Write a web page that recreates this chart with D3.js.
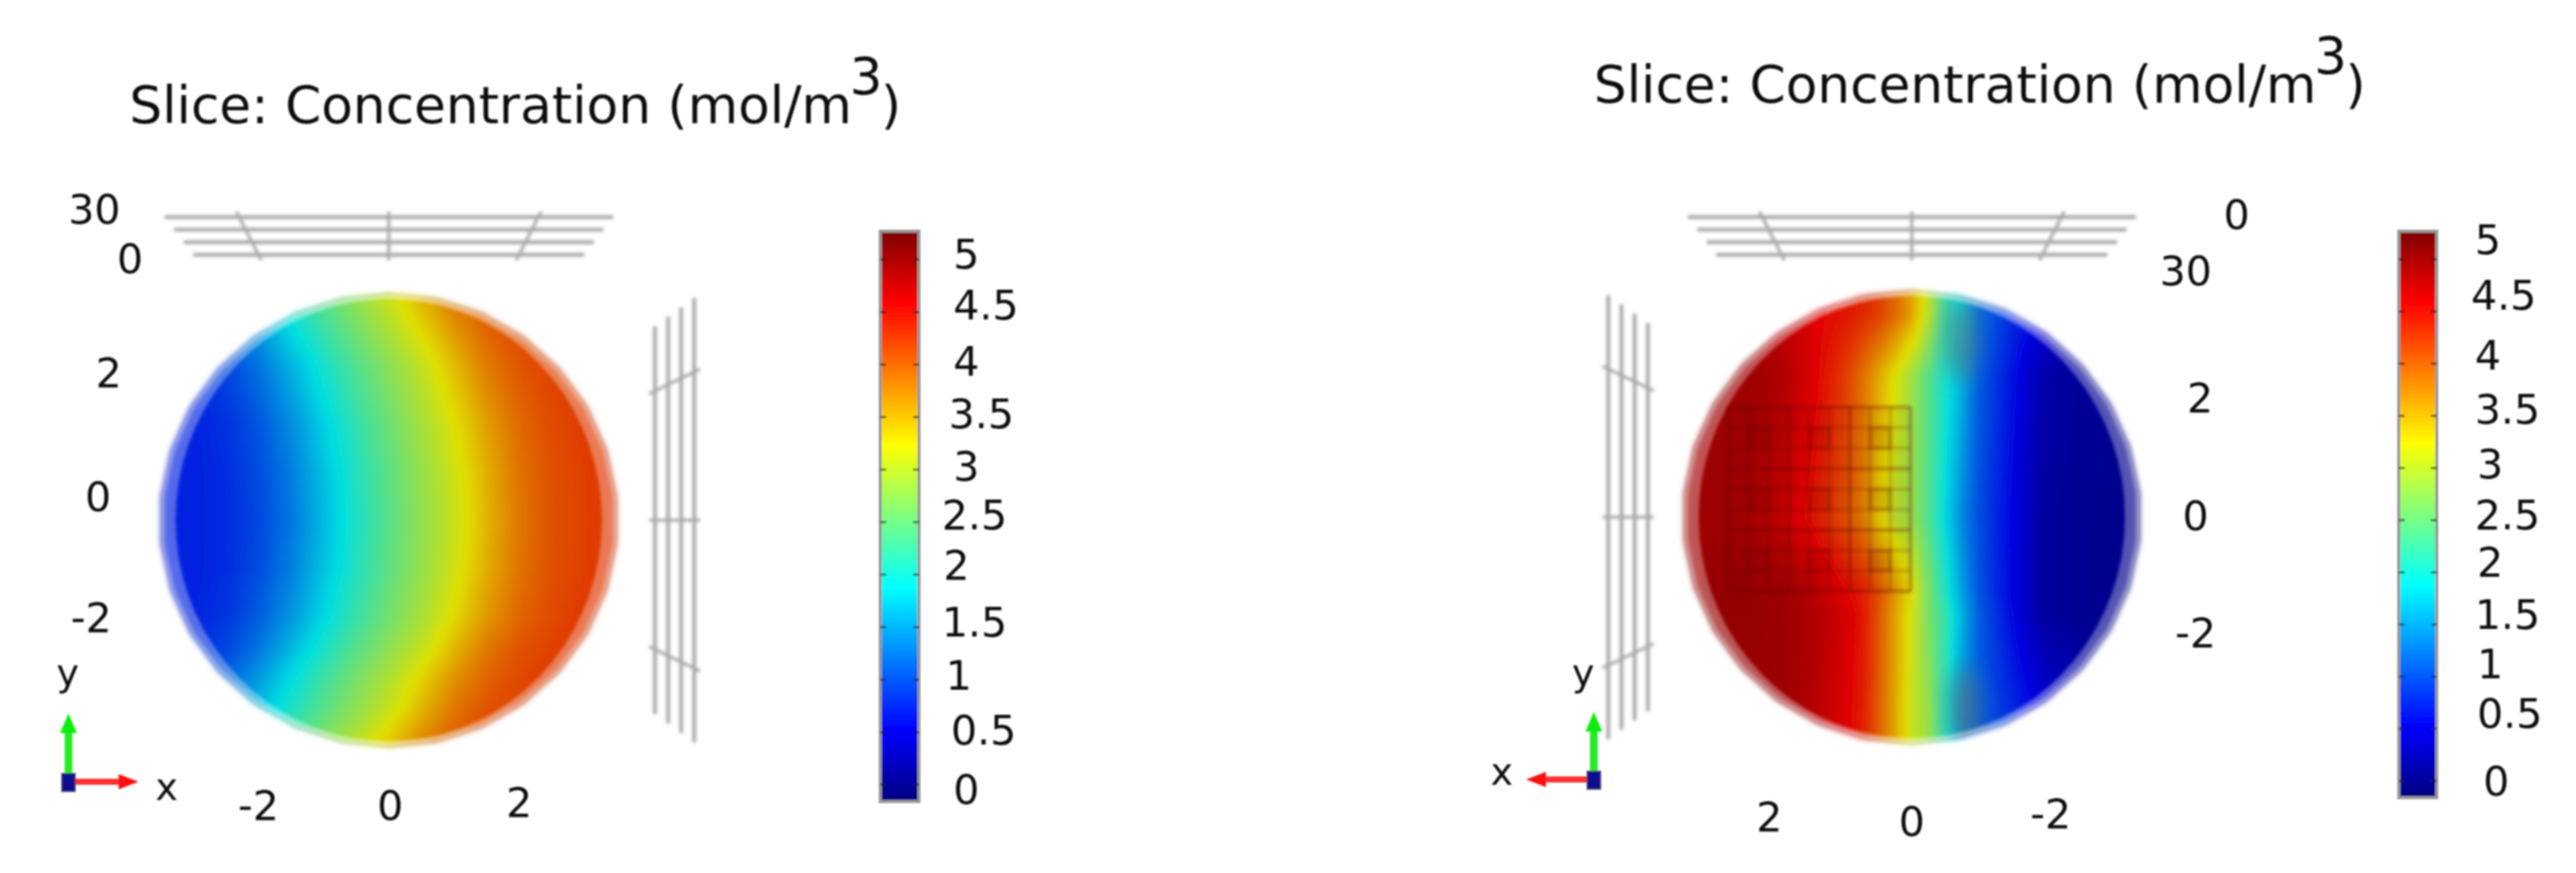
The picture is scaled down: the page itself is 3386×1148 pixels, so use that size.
<!DOCTYPE html>
<html>
<head>
<meta charset="utf-8">
<title>Slice: Concentration</title>
<script src="https://cdn.jsdelivr.net/npm/d3@7"></script>
<style>
  html, body { margin: 0; background: #fff; }
  svg { display: block; }
  text { font-family: "DejaVu Sans", sans-serif; fill: #111; }
</style>
</head>
<body>
<div id="chart"></div>
<script>
const width = 3386;
const height = 1148;

const titleText = "Slice: Concentration (mol/m";
const titleSup = "3";
const titleEnd = ")";

const barTicks = [0, 0.5, 1, 1.5, 2, 2.5, 3, 3.5, 4, 4.5, 5];
const barDomain = [-0.16, 5.27];
const spaceTicks = [-2, 0, 2];
const depthLevels = [0, 10, 20, 30];
const depthLabels = [30, 0];

// jet colormap, fractions along the bar
const jetStops = [0, 0.125, 0.375, 0.625, 0.875, 1];
const jetColors = ["#00007f", "#0000ff", "#00ffff", "#ffff00", "#ff0000", "#7f0000"];

const leftColumns = [-3.5, -3, -2.5, -2, -1.5, -1, -0.5, 0, 0.5, 1, 1.5, 2, 2.5, 3, 3.5];
const leftRows = [3.4, 2.9, 2.4, 1.5, 0.75, 0, -0.75, -1.5, -2, -2.4, -2.9, -3.4];
const leftField = [
  [0.78, 0.95, 1.25, 1.65, 2.05, 2.42, 2.75, 3.08, 3.5, 3.88, 4.1, 4.2, 4.3, 4.3, 4.3],
  [0.75, 0.86, 1.08, 1.43, 1.83, 2.21, 2.57, 2.9, 3.26, 3.67, 3.98, 4.14, 4.24, 4.3, 4.3],
  [0.72, 0.77, 0.93, 1.22, 1.61, 2.01, 2.38, 2.72, 3.05, 3.46, 3.85, 4.08, 4.19, 4.29, 4.3],
  [0.71, 0.73, 0.82, 1.04, 1.38, 1.79, 2.19, 2.54, 2.87, 3.23, 3.63, 3.96, 4.14, 4.24, 4.3],
  [0.7, 0.72, 0.79, 0.98, 1.29, 1.69, 2.09, 2.45, 2.78, 3.12, 3.54, 3.9, 4.11, 4.21, 4.3],
  [0.7, 0.72, 0.78, 0.95, 1.25, 1.65, 2.05, 2.42, 2.75, 3.08, 3.5, 3.88, 4.1, 4.2, 4.3],
  [0.7, 0.72, 0.79, 0.98, 1.3, 1.7, 2.09, 2.46, 2.78, 3.13, 3.55, 3.9, 4.11, 4.21, 4.3],
  [0.71, 0.74, 0.84, 1.09, 1.44, 1.84, 2.23, 2.58, 2.9, 3.28, 3.68, 3.98, 4.15, 4.25, 4.3],
  [0.72, 0.78, 0.95, 1.25, 1.65, 2.05, 2.42, 2.75, 3.08, 3.5, 3.88, 4.1, 4.2, 4.3, 4.3],
  [0.75, 0.87, 1.1, 1.45, 1.85, 2.24, 2.6, 2.92, 3.3, 3.7, 3.99, 4.15, 4.25, 4.3, 4.3],
  [0.78, 0.95, 1.25, 1.65, 2.05, 2.42, 2.75, 3.08, 3.5, 3.88, 4.1, 4.2, 4.3, 4.3, 4.3],
  [0.9, 1.16, 1.53, 1.93, 2.31, 2.65, 2.98, 3.37, 3.77, 4.04, 4.17, 4.27, 4.3, 4.3, 4.3]
];

// same for the right slice, finer in the middle where the front is sharp
const rightColumns = [-3.5, -3, -2.5, -2, -1.5, -1, -0.75, -0.5, -0.25, 0, 0.25, 0.5, 0.75, 1, 1.5, 2, 2.5, 3, 3.5];
const rightRows = [3.15, 2.2, 0, -1.15, -1.5, -3.1];
const rightField = [
  [0.1, 0.1, 0.3, 0.5, 0.8, 1.2, 1.8, 2.2, 3.0, 3.6, 3.95, 4.2, 4.35, 4.45, 4.6, 4.8, 4.9, 5.0, 5.0],
  [0.02, 0.05, 0.1, 0.2, 0.65, 1.1, 1.6, 2.0, 2.4, 2.8, 3.2, 3.55, 3.9, 4.2, 4.6, 4.9, 5.0, 5.0, 4.95],
  [0.0, 0.02, 0.05, 0.12, 0.55, 1.0, 1.35, 1.85, 2.35, 2.75, 2.95, 3.3, 3.8, 4.05, 4.45, 4.75, 4.95, 5.0, 4.95],
  [0.0, 0.02, 0.05, 0.12, 0.55, 1.05, 1.5, 2.05, 2.6, 3.2, 3.65, 4.1, 4.4, 4.55, 4.85, 5.0, 5.05, 5.05, 4.95],
  [0.0, 0.02, 0.05, 0.12, 0.6, 1.1, 1.6, 2.2, 2.6, 3.1, 3.6, 4.05, 4.45, 4.65, 4.9, 5.0, 5.05, 5.05, 4.95],
  [0.1, 0.1, 0.3, 0.5, 0.8, 1.1, 1.4, 2.1, 2.8, 3.05, 3.55, 4.0, 4.4, 4.6, 4.85, 5.0, 5.0, 5.0, 5.0]
];

// duller patches near the top and bottom of the right slice's front, [x, y]
const rightDullSpots = [[-0.75, 2.75], [-0.8, -2.95]];

// mesh of the inset on the right slice
const meshCells = d3.range(9);
const meshExtentX = [0.02, 2.82];
const meshExtentY = [-1.15, 1.7];

const spaceMax = 3.5;
const rimSides = 30;
const shade = 0.88;

const panels = [
  {
    title: [170, 162], supShift: [-3, -38], endShift: [-2, 38],
    cx: 511, cy: 684, unit: 85.7, unitY: 85, flip: 1,
    columns: leftColumns, rows: leftRows, field: leftField, dull: [],
    zDomain: [0, 30],
    topY: [335, 285.5], sideX: [861, 912.5], zoomFar: 1.146,
    depthText: [[124, 275], [171, 340]],
    xLabelDx: [0, 2, 0], xLabelY: [1059, 1059, 1055],
    yLabelX: [120, 129, 143], yLabelDy: [-42, -31, -24],
    triad: { x: 90, y: 1028, dir: 1, xEnd: 182, yEnd: 938 },
    xText: [219, 1038], yText: [89, 888],
    bar: { x: 1157, w: 51, top: 304, bottom: 1054 },
    barLabelX: [1253, 1250, 1243, 1238, 1240, 1238, 1253, 1247, 1253, 1253, 1253],
    barLabelDy: [6, -3, -6, -7, -13, -10, -5, -5, -5, -10, -8],
    mesh: false
  },
  {
    title: [2095, 135], supShift: [-3, -38], endShift: [-2, 38],
    cx: 2513, cy: 680, unit: 85.7, unitY: 85, flip: -1,
    columns: rightColumns, rows: rightRows, field: rightField, dull: rightDullSpots,
    zDomain: [30, 0],
    topY: [335, 285.5], sideX: [2166, 2114], zoomFar: 1.146,
    depthText: [[2873, 356], [2940, 282]],
    xLabelDx: [11, 0, -16], xLabelY: [1070, 1080, 1074],
    yLabelX: [2886, 2886, 2892], yLabelDy: [-18, -2, 13],
    triad: { x: 2095, y: 1025, dir: -1, xEnd: 2006, yEnd: 936 },
    xText: [1974, 1018], yText: [2081, 888],
    bar: { x: 3153, w: 50, top: 304, bottom: 1049 },
    barLabelX: [3264, 3256, 3256, 3253, 3256, 3253, 3256, 3253, 3253, 3248, 3253],
    barLabelDy: [0, -21, -17, -14, -14, -7, -6, -9, -12, -22, -26],
    mesh: true
  }
];

const svg = d3.select("#chart").append("svg")
  .attr("width", width)
  .attr("height", height)
  .attr("viewBox", `0 0 ${width} ${height}`);

const defs = svg.append("defs");

function addBlur(id, amount) {
  defs.append("filter")
    .attr("id", id)
    .attr("filterUnits", "userSpaceOnUse")
    .attr("x", 0).attr("y", 0).attr("width", width).attr("height", height)
    .append("feGaussianBlur")
    .attr("stdDeviation", amount);
}
addBlur("softText", 0.8);
addBlur("softLine", 1.3);
addBlur("softWire", 2);
addBlur("softField", 4);
addBlur("softMesh", 2);
addBlur("softSpot", 14);

const jet = d3.scaleLinear()
  .domain(jetStops.map(t => barDomain[0] + t * (barDomain[1] - barDomain[0])))
  .range(jetColors)
  .clamp(true);

function fieldImage(p, xScale, yScale) {
  const step = 2;
  const x0 = p.cx - 320, y0 = p.cy - 320, size = 640;
  const canvas = document.createElement("canvas");
  canvas.width = canvas.height = size / step;
  const ctx = canvas.getContext("2d");
  const img = ctx.createImageData(canvas.width, canvas.height);

  const colIndex = d3.scaleLinear().domain(p.columns).range(d3.range(p.columns.length)).clamp(true);
  const rowIndex = d3.scaleLinear().domain(p.rows).range(d3.range(p.rows.length)).clamp(true);

  for (let j = 0; j < canvas.height; j++) {
    const ry = rowIndex(yScale.invert(y0 + j * step));
    const r0 = Math.floor(ry), r1 = Math.min(r0 + 1, p.rows.length - 1), fr = ry - r0;
    for (let i = 0; i < canvas.width; i++) {
      const cx = colIndex(xScale.invert(x0 + i * step));
      const c0 = Math.floor(cx), c1 = Math.min(c0 + 1, p.columns.length - 1), fc = cx - c0;
      const v = (p.field[r0][c0] * (1 - fc) + p.field[r0][c1] * fc) * (1 - fr)
              + (p.field[r1][c0] * (1 - fc) + p.field[r1][c1] * fc) * fr;
      const c = d3.rgb(jet(v));
      const k = (j * canvas.width + i) * 4;
      img.data[k] = c.r * shade;
      img.data[k + 1] = c.g * shade;
      img.data[k + 2] = c.b * shade;
      img.data[k + 3] = 255;
    }
  }
  ctx.putImageData(img, 0, 0);
  return { href: canvas.toDataURL(), x: x0, y: y0, size };
}

function drawPanel(p, index) {
  const xScale = d3.scaleLinear().domain([-1, 1]).range([p.cx - p.flip * p.unit, p.cx + p.flip * p.unit]);
  const yScale = d3.scaleLinear().domain([-1, 1]).range([p.cy + p.unitY, p.cy - p.unitY]);
  const zFrac = d3.scaleLinear().domain(p.zDomain).range([0, 1]);

  const g = svg.append("g").attr("class", "panel");

  // wire box behind the slice
  const wire = g.append("g")
    .attr("filter", "url(#softWire)")
    .attr("stroke", "#a8a8a8")
    .attr("stroke-width", 5)
    .attr("fill", "none");

  const topY = d3.scaleLinear().domain([0, 1]).range(p.topY);
  const sideX = d3.scaleLinear().domain([0, 1]).range(p.sideX);
  const persp = d3.scaleLinear().domain([0, 1]).range([1, p.zoomFar]);

  depthLevels.forEach(z => {
    const t = zFrac(z);
    const u = index === 0 ? t : 1 - t;
    wire.append("line")
      .attr("x1", xScale(-3 * persp(u))).attr("x2", xScale(3 * persp(u)))
      .attr("y1", topY(u)).attr("y2", topY(u));
    wire.append("line")
      .attr("x1", sideX(u)).attr("x2", sideX(u))
      .attr("y1", yScale(-3 * persp(u))).attr("y2", yScale(3 * persp(u)));
  });

  spaceTicks.forEach(v => {
    const a = -0.15, b = 1.15;
    wire.append("line")
      .attr("x1", xScale(v * persp(a))).attr("x2", xScale(v * persp(b)))
      .attr("y1", topY(a)).attr("y2", topY(b))
      .attr("stroke-width", 4);
    wire.append("line")
      .attr("x1", sideX(a)).attr("x2", sideX(b))
      .attr("y1", yScale(v * persp(a))).attr("y2", yScale(v * persp(b)))
      .attr("stroke-width", 4);
  });

  // slice
  const rim = d3.range(rimSides).map(i => {
    const a = (i + 0.5) / rimSides * 2 * Math.PI;
    return [xScale(spaceMax * Math.cos(a)), yScale(spaceMax * Math.sin(a))];
  });
  const inner = d3.range(72).map(i => {
    const a = i / 72 * 2 * Math.PI;
    return [xScale(3.27 * Math.cos(a)), yScale(3.42 * Math.sin(a))];
  });
  const outline = d3.line().curve(d3.curveLinearClosed);

  defs.append("clipPath").attr("id", `disc${index}`)
    .append("path").attr("d", outline(rim));

  const img = fieldImage(p, xScale, yScale);
  g.append("g")
    .attr("filter", "url(#softField)")
    .append("image")
    .attr("href", img.href)
    .attr("x", img.x).attr("y", img.y)
    .attr("width", img.size).attr("height", img.size)
    .attr("clip-path", `url(#disc${index})`);

  g.append("g")
    .attr("clip-path", `url(#disc${index})`)
    .append("g")
    .attr("filter", "url(#softSpot)")
    .selectAll("ellipse").data(p.dull).join("ellipse")
    .attr("cx", d => xScale(d[0])).attr("cy", d => yScale(d[1]))
    .attr("rx", 22).attr("ry", 55)
    .attr("fill", "#6a6a70").attr("fill-opacity", 0.55);

  const soft = g.append("g").attr("filter", "url(#softMesh)");
  soft.append("path")
    .attr("d", outline(rim) + outline(inner))
    .attr("fill", "#fff")
    .attr("fill-rule", "evenodd")
    .attr("opacity", 0.33);
  soft.append("path")
    .attr("d", outline(rim))
    .attr("fill", "none")
    .attr("stroke", "#999")
    .attr("stroke-opacity", 0.4)
    .attr("stroke-width", 2);

  if (p.mesh) drawMesh(g, xScale, yScale);

  // tick labels
  const labels = g.append("g").attr("filter", "url(#softText)").attr("font-size", 54);

  labels.selectAll(".x-label").data(spaceTicks).join("text")
    .attr("class", "x-label")
    .attr("text-anchor", "middle")
    .attr("dy", "0.36em")
    .attr("x", (d, i) => xScale(d) + p.xLabelDx[i])
    .attr("y", (d, i) => p.xLabelY[i])
    .text(d => d);

  labels.selectAll(".y-label").data(spaceTicks).join("text")
    .attr("class", "y-label")
    .attr("text-anchor", "middle")
    .attr("dy", "0.36em")
    .attr("x", (d, i) => p.yLabelX[i])
    .attr("y", (d, i) => yScale(d) + p.yLabelDy[i])
    .text(d => d);

  labels.selectAll(".z-label").data(depthLabels).join("text")
    .attr("class", "z-label")
    .attr("text-anchor", "middle")
    .attr("dy", "0.36em")
    .attr("x", (d, i) => p.depthText[i][0])
    .attr("y", (d, i) => p.depthText[i][1])
    .text(d => d);

  drawTriad(g, p);

  // title
  const title = g.append("text")
    .attr("filter", "url(#softText)")
    .attr("x", p.title[0]).attr("y", p.title[1])
    .attr("font-size", 68)
    .text(titleText);
  title.append("tspan").attr("dx", p.supShift[0]).attr("dy", p.supShift[1]).text(titleSup);
  title.append("tspan").attr("dx", p.endShift[0]).attr("dy", p.endShift[1]).text(titleEnd);

  drawBar(g, p, index);
}

function drawMesh(g, xScale, yScale) {
  const colEdge = d3.scaleLinear().domain([0, meshCells.length]).range(meshExtentX.map(d => xScale(d)).reverse());
  const rowEdge = d3.scaleLinear().domain([0, meshCells.length]).range(meshExtentY.map(d => yScale(d)).reverse());
  const mesh = g.append("g").attr("filter", "url(#softMesh)");
  const ink = "#6a0a00";

  mesh.append("rect")
    .attr("x", colEdge(0)).attr("y", rowEdge(0))
    .attr("width", colEdge(meshCells.length) - colEdge(0))
    .attr("height", rowEdge(meshCells.length) - rowEdge(0))
    .attr("fill", ink).attr("fill-opacity", 0.06);

  // centre cell of every 3x3 block is darker
  const centres = meshCells.filter(i => i % 3 === 1);
  centres.forEach(c => centres.forEach(r => {
    mesh.append("rect")
      .attr("x", colEdge(c)).attr("y", rowEdge(r))
      .attr("width", colEdge(c + 1) - colEdge(c))
      .attr("height", rowEdge(r + 1) - rowEdge(r))
      .attr("fill", ink).attr("fill-opacity", 0.1)
      .attr("stroke", ink).attr("stroke-opacity", 0.18).attr("stroke-width", 5);
  }));

  d3.range(meshCells.length + 1).forEach(i => {
    const strong = i % 3 === 0;
    const alpha = strong ? 0.36 : 0.2;
    mesh.append("line")
      .attr("x1", colEdge(i)).attr("x2", colEdge(i))
      .attr("y1", rowEdge(0)).attr("y2", rowEdge(meshCells.length))
      .attr("stroke", ink).attr("stroke-opacity", alpha).attr("stroke-width", 4);
    mesh.append("line")
      .attr("x1", colEdge(0)).attr("x2", colEdge(meshCells.length))
      .attr("y1", rowEdge(i)).attr("y2", rowEdge(i))
      .attr("stroke", ink).attr("stroke-opacity", alpha).attr("stroke-width", 4);
  });
}

function drawTriad(g, p) {
  const t = p.triad;
  const a = g.append("g").attr("filter", "url(#softLine)");
  a.append("line")
    .attr("x1", t.x).attr("x2", t.x).attr("y1", t.y).attr("y2", t.yEnd + 22)
    .attr("stroke", "#22ee22").attr("stroke-width", 10);
  a.append("path")
    .attr("d", d3.line()([[t.x - 11, t.yEnd + 26], [t.x + 11, t.yEnd + 26], [t.x, t.yEnd]]))
    .attr("fill", "#11ee11");
  a.append("line")
    .attr("x1", t.x).attr("x2", t.xEnd - t.dir * 24).attr("y1", t.y).attr("y2", t.y)
    .attr("stroke", "#ff3030").attr("stroke-width", 8);
  a.append("path")
    .attr("d", d3.line()([[t.xEnd - t.dir * 26, t.y - 10], [t.xEnd - t.dir * 26, t.y + 10], [t.xEnd, t.y]]))
    .attr("fill", "#ff1010");
  a.append("rect")
    .attr("x", t.x - 9).attr("y", t.y - 11).attr("width", 18).attr("height", 24)
    .attr("fill", "#0a0a90").attr("stroke", "#555").attr("stroke-width", 2).attr("stroke-opacity", 0.5);

  const labels = g.append("g").attr("filter", "url(#softText)").attr("font-size", 50);
  labels.append("text").attr("text-anchor", "middle").attr("dy", "0.28em")
    .attr("x", p.xText[0]).attr("y", p.xText[1]).text("x");
  labels.append("text").attr("text-anchor", "middle").attr("dy", "0.28em")
    .attr("x", p.yText[0]).attr("y", p.yText[1]).text("y");
}

function drawBar(g, p, index) {
  const b = p.bar;
  const barY = d3.scaleLinear().domain(barDomain).range([b.bottom, b.top]);

  const grad = defs.append("linearGradient").attr("id", `jet${index}`)
    .attr("x1", 0).attr("x2", 0).attr("y1", 1).attr("y2", 0);
  jetStops.forEach((t, i) => {
    grad.append("stop").attr("offset", t).attr("stop-color", jetColors[i]);
  });

  const bar = g.append("g").attr("filter", "url(#softLine)");
  bar.append("rect")
    .attr("x", b.x).attr("y", barY(barDomain[1]))
    .attr("width", b.w).attr("height", barY(barDomain[0]) - barY(barDomain[1]))
    .attr("fill", `url(#jet${index})`)
    .attr("stroke", "#999").attr("stroke-width", 4);

  bar.selectAll(".bar-tick").data(barTicks).join("g").attr("class", "bar-tick")
    .each(function (d) {
      const y = barY(d);
      d3.select(this).selectAll("line").data([[b.x, b.x + 8], [b.x + b.w - 8, b.x + b.w]]).join("line")
        .attr("x1", e => e[0]).attr("x2", e => e[1])
        .attr("y1", y).attr("y2", y)
        .attr("stroke", "#222").attr("stroke-opacity", 0.6).attr("stroke-width", 3);
    });

  g.append("g").attr("filter", "url(#softText)").attr("font-size", 54)
    .selectAll("text").data(barTicks).join("text")
    .attr("dy", "0.36em")
    .attr("x", (d, i) => p.barLabelX[i])
    .attr("y", (d, i) => barY(d) + p.barLabelDy[i])
    .text(d => d);
}

panels.forEach(drawPanel);
</script>
</body>
</html>
